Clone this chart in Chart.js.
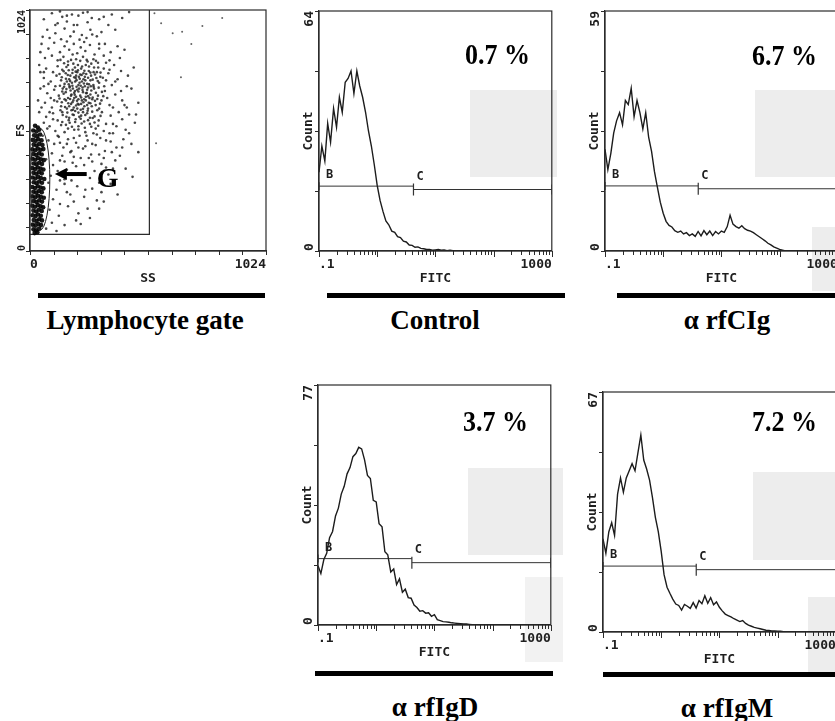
<!DOCTYPE html>
<html>
<head>
<meta charset="utf-8">
<script src="https://cdn.jsdelivr.net/npm/chart.js"></script>
<style>
html,body{margin:0;padding:0;background:#fff;}
#fig{position:relative;width:835px;height:721px;overflow:hidden;background:#fff;}
#fig canvas{position:absolute;z-index:2;}
.shade{position:absolute;background:#ededed;z-index:1;}
.bar{position:absolute;background:#000;height:5px;z-index:3;}
.title{position:absolute;font-family:"Liberation Serif","Times New Roman",serif;font-weight:bold;font-size:27px;line-height:27px;white-space:nowrap;z-index:3;color:#000;transform:translateX(-50%);}
.pct{position:absolute;font-family:"Liberation Serif","Times New Roman",serif;font-weight:bold;font-size:26px;line-height:26px;white-space:nowrap;z-index:3;color:#000;transform-origin:0 22px;transform:scaleY(1.12);}
</style>
</head>
<body>
<div id="fig">
  <div class="shade" style="left:470px;top:90px;width:87px;height:87px"></div>
  <div class="shade" style="left:755px;top:90px;width:80px;height:87px"></div>
  <div class="shade" style="left:812px;top:227px;width:23px;height:64px"></div>
  <div class="shade" style="left:468px;top:468px;width:95px;height:87px"></div>
  <div class="shade" style="left:525px;top:577px;width:38px;height:85px;background:#f2f2f2"></div>
  <div class="shade" style="left:753px;top:472px;width:82px;height:88px"></div>
  <div class="shade" style="left:808px;top:597px;width:27px;height:76px"></div>

  <canvas id="sc" width="270" height="286" style="left:0px;top:0px"></canvas>
  <canvas id="h0" width="259" height="286" style="left:300px;top:0px"></canvas>
  <canvas id="h1" width="259" height="286" style="left:586px;top:0px"></canvas>
  <canvas id="h2" width="259" height="286" style="left:299px;top:374px"></canvas>
  <canvas id="h3" width="259" height="286" style="left:584px;top:381px"></canvas>

  <div class="bar" style="left:38px;top:293px;width:227px"></div>
  <div class="bar" style="left:327px;top:293px;width:238px"></div>
  <div class="bar" style="left:617px;top:293px;width:230px"></div>
  <div class="bar" style="left:315px;top:671px;width:238px"></div>
  <div class="bar" style="left:603px;top:672px;width:240px"></div>

  <div class="title" id="t-gate" style="left:145px;top:307px"></div>
  <div class="title" id="t0" style="left:435px;top:307px"></div>
  <div class="title" id="t1" style="left:727px;top:307px"></div>
  <div class="title" id="t2" style="left:435px;top:694px"></div>
  <div class="title" id="t3" style="left:727px;top:695px"></div>

  <div class="pct" id="p0" style="left:465px;top:43px"></div>
  <div class="pct" id="p1" style="left:752px;top:44px"></div>
  <div class="pct" id="p2" style="left:463px;top:410px"></div>
  <div class="pct" id="p3" style="left:752px;top:410px"></div>
</div>
<script>
// ---------- DATA ----------
const fitcBins = [0.100,0.112,0.126,0.141,0.158,0.178,0.200,0.224,0.251,0.282,0.316,0.355,0.398,0.447,0.501,0.562,0.631,0.708,0.794,0.891,
1.00,1.12,1.26,1.41,1.58,1.78,2.00,2.24,2.51,2.82,3.16,3.55,3.98,4.47,5.01,5.62,6.31,7.08,7.94,8.91,
10.0,11.2,12.6,14.1,15.8,17.8,20.0,22.4,25.1,28.2,31.6,35.5,39.8,44.7,50.1,56.2,63.1,70.8,79.4,89.1,
100,112,126,141,158,178,200,224,251,282,316,355,398,447,501,562,631,708,794,891,1000];

const controlCounts = [21,28,24,34,29,38,33,41,37,45,
46,48,42,48,44,41,37,32,28,23,
17.5,13.5,10.5,8,7,5.3,5,3.8,3.6,2.6,
2.4,1.6,1.5,1.0,1.1,0.7,0.6,0.4,0.4,0.2,
0.3,0.4,0.2,0.3,0.1,0.2,0.1,0,0,0,
0,0,0,0,0,0,0,0,0,0,0,0,0,0,0,0,0,0,0,0,0,0,0,0,0,0,0,0,0,0,0];

const cigCounts = [25,20,24,29,32,34,31,37,36,40,
33,37,34,30,34,28,24.5,19.5,15.7,12,
9.3,7.3,6.3,5.9,5.0,4.6,4.9,4.2,4.5,3.8,
4.2,3.6,4.8,3.7,5.0,4.0,4.9,3.8,4.8,4.2,
4.9,4.6,6.0,8.8,6.6,6.0,5.6,6.2,5.5,5.1,
4.9,4.5,4.0,3.5,3.0,2.5,1.9,1.5,1.0,0.7,
0.4,0.2,0,0,0,0,0,0,0,0,
0,0,0,0,0,0,0,0,0,0,0];

const igdCounts = [19,16.5,21,23,28,30,35,37.5,42,44.5,
48.5,50.5,54,55,57,56.5,53,48,47,40,
39.5,32.5,31.5,23.5,22.5,17,18,13,14.8,10.5,
11.5,8.8,8.6,6.4,5.6,4.4,4.6,3.8,3.9,2.8,
3.3,1.7,1.4,1.1,1.0,0.9,0.7,0.6,0.5,0.4,
0.3,0.3,0.2,0.1,0,0,0,0,0,0,
0,0,0,0,0,0,0,0,0,0,0,0,0,0,0,0,0,0,0,0,0];

const igmCounts = [26,22,28,30.5,27,38.5,43,39,43,45,
47,45,50,55,48,45.5,42.4,37.5,32,28,
22.5,16,12.5,10.8,9.2,7.8,7.4,6.1,7.7,7.2,
6.6,8.2,6.7,8.8,7.9,10.1,8.0,9.6,7.6,8.4,
6.9,5.9,5.0,4.6,4.2,3.7,3.3,2.9,3.2,2.4,
1.9,1.6,1.3,1.1,0.9,0.7,0.5,0.4,0.3,0.3,
0.2,0.2,0.1,0,0,0,0,0,0,0,
0,0,0,0,0,0,0,0,0,0,0];

const panelNames = ['Control','\u03b1 rfCIg','\u03b1 rfIgD','\u03b1 rfIgM'];
const positivePct = ['0.7 %','6.7 %','3.7 %','7.2 %'];
const countMax = [64,59,77,67];
const gateCStart = [4.2,4.0,4.1,4.0];
const gateBLevel = [17.3,16.0,21.3,18.4];
const gateCLevel = [16.4,15.3,20.0,17.4];
const fitcTickLabels = ['.1','1000'];
const scatterTickLabels = ['0','1024'];
const scatterTitle = 'Lymphocyte gate';

// [SS, FS] pairs
const lymphPoints = [[22,532],[34,525],[14,512],[28,508],[40,515],[18,492],[30,488],[44,495],
[12,472],[24,468],[36,475],[50,470],[16,452],[28,448],[40,455],[54,450],
[10,432],[22,428],[34,435],[46,430],[58,433],[15,412],[27,408],[39,415],[51,410],
[11,392],[23,388],[35,395],[47,390],[60,386],[16,372],[28,368],[40,375],[52,370],
[10,352],[22,348],[34,355],[46,350],[58,346],[15,332],[27,328],[39,335],[51,330],
[11,312],[23,308],[35,315],[47,310],[62,306],[16,292],[28,288],[40,295],[52,290],
[10,272],[22,268],[34,275],[46,270],[58,266],[15,252],[27,248],[39,255],[51,250],
[11,232],[23,228],[35,235],[47,230],[60,226],[16,212],[28,208],[40,215],[52,210],
[10,192],[22,188],[34,195],[46,190],[57,186],[15,172],[27,168],[39,175],[51,170],
[11,152],[23,148],[35,155],[47,150],[16,132],[28,128],[40,135],[52,130],
[12,112],[24,108],[36,115],[48,110],[15,92],[27,88],[40,95],[20,76],[32,80]];

const cloudPoints = [
[95,1010],[140,995],[182,1005],[230,1012],[268,990],[120,968],[160,975],[205,960],[250,972],[300,985],
[75,940],[110,925],[150,945],[190,932],[225,918],[262,940],[310,930],[340,960],[85,905],[135,900],
[175,912],[215,898],[245,905],[290,912],[130,1018],[210,1000],[60,985],[355,1005],[400,990],[430,1015],
[50,880],[80,860],[105,885],[130,845],[150,870],[170,855],[190,880],[205,840],[220,865],[240,850],
[260,875],[280,835],[300,860],[325,880],[350,845],[380,870],[410,855],[65,820],[95,830],[120,810],
[145,825],[165,805],[185,835],[200,815],[230,825],[250,805],[275,815],[295,800],[320,830],[345,810],
[45,845],[390,820],[160,890],[235,888],
[40,790],[70,775],[100,760],[120,785],[140,770],[155,755],[165,790],[175,745],[185,770],[195,780],
[205,760],[212,740],[222,775],[232,755],[242,790],[255,765],[265,745],[278,780],[290,760],[305,740],
[320,775],[340,755],[365,790],[395,765],[425,745],[60,735],[90,720],[115,745],[135,725],[150,710],
[170,730],[182,715],[198,735],[210,705],[225,720],[238,740],[248,710],[262,725],[275,705],[288,735],
[300,715],[330,725],[355,705],[380,730],[450,780],
[45,690],[75,670],[105,685],[125,660],[142,690],[155,675],[165,650],[172,695],[180,665],[188,640],
[195,680],[200,655],[207,625],[213,690],[218,660],[225,640],[230,675],[236,615],[242,655],[248,685],
[255,630],[262,665],[270,645],[278,690],[285,620],[295,660],[310,640],[325,680],[345,620],[370,665],
[400,640],[440,690],[65,630],[95,610],[118,635],[135,615],[150,645],[160,605],[178,625],[190,610],
[205,605],[220,600],[235,645],[252,605],[268,615],[300,605],[335,650],[360,610],[470,630],
[160,720],[172,700],[186,690],[196,720],[205,685],[215,715],[228,695],[240,725],[252,695],[200,745],
[218,750],[232,730],[178,660],[192,650],[210,645],[222,625],[244,670],[258,650],[170,615],[186,600],
[230,590],[214,570],[196,595],[248,620],[264,700],
[40,590],[70,570],[100,585],[120,555],[140,590],[158,570],[172,545],[185,580],[198,560],[210,530],
[222,575],[235,550],[248,585],[260,540],[272,565],[285,520],[298,555],[312,590],[330,540],[350,575],
[375,530],[400,560],[430,580],[455,545],[85,530],[110,510],[135,535],[150,505],[165,520],[192,515],
[240,505],[275,500],[320,510],[360,500],[415,515],[60,545],
[55,490],[80,470],[105,455],[125,485],[145,440],[165,475],[180,425],[200,460],[215,490],[230,435],
[250,470],[265,410],[285,450],[305,480],[325,425],[350,465],[375,440],[405,475],[440,455],[470,420],
[95,415],[140,405],[190,400],[240,445],[300,410],[390,405],
[70,390],[100,365],[130,385],[160,345],[185,375],[210,330],[235,365],[255,395],[280,340],[310,370],
[340,325],[370,385],[415,350],[445,315],[90,320],[150,305],[200,360],[260,310],[120,340],
[80,290],[115,260],[150,285],[175,240],[205,275],[235,230],[270,265],[310,250],[350,285],[100,220],
[190,210],[290,215],[380,240],[130,300],
[85,175],[125,150],[165,190],[210,160],[260,140],[95,120],[150,110],[220,115],[300,180],[70,95],[115,85],
[132,812],[148,798],[158,782],[168,768],[178,812],[188,796],[198,762],[208,790],[218,808],[226,784],
[236,766],[246,812],[256,784],[266,796],[276,760],[286,808],[296,780],
[128,752],[138,738],[146,764],[156,732],[164,748],[174,722],[184,756],[192,738],[202,726],[208,768],
[216,732],[224,748],[234,712],[244,752],[252,736],[262,758],[272,728],[282,750],[294,722],[306,758],[316,736],
[130,702],[140,678],[148,698],[158,688],[168,708],[176,682],[184,702],[192,672],[202,698],[210,678],
[220,702],[228,684],[238,700],[246,672],[256,708],[266,682],[276,698],[286,672],[298,694],[312,676],[322,700],
[128,648],[138,632],[146,668],[156,640],[166,628],[174,646],[184,632],[194,664],[204,638],[212,622],
[222,652],[232,632],[242,640],[252,658],[262,628],[272,652],[282,638],[292,646],[304,626],[318,658],
[132,598],[142,578],[152,612],[162,588],[170,566],[180,598],[190,578],[200,618],[210,588],[220,562],
[230,604],[240,578],[250,596],[260,566],[270,592],[280,572],[292,598],[306,574],
[140,548],[156,536],[168,556],[182,528],[196,548],[210,516],[224,542],[238,524],[252,556],[266,528],[280,546],[296,532],
[60,760],[80,710],[90,650],[85,590],[110,700],[105,640],[100,560],[75,520],[120,490],[130,460],
[160,455],[190,480],[210,440],[245,490],[270,455],[290,495],[330,470],[345,500],[360,540],[385,590],
[410,620],[395,680],[420,700],[370,720],[345,770],[330,800],[300,880],[270,920],[190,960],[160,1000],
[250,1015],[320,995],[370,940],[110,960],[55,910],[45,760],[35,640],[50,610],[60,700],[150,380],
[175,420],[220,395],[270,380],[320,395],[355,420],[400,440],[430,500],[460,580],[420,610],[240,260],
[180,300],[300,290],[330,355],[360,350],[160,250],[130,200],[250,180],[320,210],[200,130]];

const outsidePoints = [[569,968],[619,925],[660,932],[748,956],[655,738],[547,458],[834,990],[540,1010],[700,880]];

const gateSSMax = 518, gateFSMin = 71;          // rectangular scatter gate
const gateG = {ss:44, fs:305, rss:42, rfs:216};   // elliptical lymphocyte gate "G"
const arrowSS = [246,108], arrowFS = 327;

// ---------- HELPERS ----------
const MONO = '"DejaVu Sans Mono", "Liberation Mono", monospace';
const INK = '#1e1e1e';
const logTicks = [];
for (let e = -1; e < 3; e++) for (let s = 1; s < 10; s++) logTicks.push(+(s * Math.pow(10, e)).toFixed(3));
logTicks.push(1000);

function rotLabel(ctx, x, y, text, align) {
  ctx.save(); ctx.translate(x, y); ctx.rotate(-Math.PI / 2);
  ctx.textAlign = align; ctx.textBaseline = 'middle';
  ctx.fillText(text, 0, 0); ctx.restore();
}
// short outward tick marks along bottom and left edges, placed by the chart's scales
function drawTickMarks(chart, bigX) {
  const {ctx, chartArea: a, scales: {x, y}} = chart;
  ctx.save();
  ctx.strokeStyle = '#2b2b2b'; ctx.lineWidth = 1;
  ctx.beginPath();
  x.ticks.forEach(t => {
    const px = Math.round(x.getPixelForValue(t.value)) + 0.5;
    const len = bigX && bigX(t.value) ? 6 : 4;
    ctx.moveTo(px, a.bottom); ctx.lineTo(px, a.bottom + len);
  });
  y.ticks.forEach(t => {
    const py = Math.round(y.getPixelForValue(t.value)) + 0.5;
    ctx.moveTo(a.left - 4, py); ctx.lineTo(a.left, py);
  });
  ctx.stroke();
  ctx.restore();
}

document.getElementById('t-gate').textContent = scatterTitle;
for (let i = 0; i < 4; i++) {
  document.getElementById('t' + i).textContent = panelNames[i];
  document.getElementById('p' + i).textContent = positivePct[i];
}

// ---------- HISTOGRAMS ----------
const allCounts = [controlCounts, cigCounts, igdCounts, igmCounts];
const isDecade = v => [0.1, 1, 10, 100, 1000].includes(v);
function makeHist(i) {
  const maxY = countMax[i];
  const counts = allCounts[i];
  const deco = {
    id: 'deco' + i,
    afterDatasetsDraw(chart) {
      const {ctx, chartArea: a, scales: {x, y}} = chart;
      drawTickMarks(chart, isDecade);
      ctx.save();
      ctx.strokeStyle = '#2b2b2b'; ctx.lineWidth = 1.2;
      ctx.strokeRect(a.left, a.top, a.right - a.left, a.bottom - a.top);
      ctx.fillStyle = INK;
      ctx.font = 'bold 13px ' + MONO;
      rotLabel(ctx, a.left - 9.5, y.getPixelForValue(maxY), String(maxY), 'right');
      rotLabel(ctx, a.left - 9.5, y.getPixelForValue(0), '0', 'left');
      ctx.font = 'bold 12px ' + MONO;
      ctx.textAlign = 'left'; ctx.textBaseline = 'bottom';
      ctx.fillText('B', x.getPixelForValue(fitcBins[0]) + 7, y.getPixelForValue(gateBLevel[i]) - 5);
      ctx.fillText('C', x.getPixelForValue(gateCStart[i]) + 3, y.getPixelForValue(gateCLevel[i]) - 7);
      ctx.restore();
    }
  };
  new Chart(document.getElementById('h' + i), {
    type: 'line',
    data: {
      datasets: [
        {data: fitcBins.map((v, k) => ({x: v, y: counts[k]})), borderColor: '#1c1c1c', borderWidth: 1.4, pointRadius: 0, tension: 0},
        {data: [{x: fitcBins[0], y: gateBLevel[i]}, {x: gateCStart[i], y: gateBLevel[i]}], borderColor: '#333', borderWidth: 1,
         pointStyle: 'line', rotation: 90, pointRadius: [4, 0], pointBorderColor: '#333', pointBorderWidth: 1.2},
        {data: [{x: gateCStart[i], y: gateCLevel[i]}, {x: fitcBins[fitcBins.length - 1], y: gateCLevel[i]}], borderColor: '#333', borderWidth: 1,
         pointStyle: 'line', rotation: 90, pointRadius: [6, 5], pointBorderColor: '#333', pointBorderWidth: 1.2}
      ]
    },
    options: {
      responsive: false, animation: false, devicePixelRatio: 1,
      layout: {padding: {top: 11, right: 3, left: 0, bottom: 0}},
      plugins: {legend: {display: false}, tooltip: {enabled: false}},
      scales: {
        x: {
          type: 'logarithmic', min: 0.1, max: 1000,
          afterBuildTicks: s => { s.ticks = logTicks.map(v => ({value: v})); },
          afterFit: s => { s.height = 35; },
          ticks: {autoSkip: false, maxRotation: 0, minRotation: 0, align: 'inner', padding: 2, color: INK,
                  font: {family: MONO, size: 13, weight: 'bold'},
                  callback: v => v === 0.1 ? fitcTickLabels[0] : (v === 1000 ? fitcTickLabels[1] : '')},
          grid: {display: false, drawOnChartArea: false, drawTicks: true, tickLength: 4, color: '#333'},
          border: {display: true, color: '#2b2b2b', width: 1.2},
          title: {display: true, text: 'FITC', color: INK, font: {family: MONO, size: 13, weight: 'bold'}, padding: {top: 0, bottom: 0}}
        },
        y: {
          type: 'linear', min: 0, max: maxY,
          afterBuildTicks: s => { s.ticks = [0, 0.25, 0.5, 0.75, 1].map(f => ({value: f * maxY})); },
          afterFit: s => { s.width = 19; },
          ticks: {display: false},
          grid: {display: false, drawOnChartArea: false, drawTicks: true, tickLength: 4, color: '#333'},
          border: {display: true, color: '#2b2b2b', width: 1.2},
          title: {display: true, text: 'Count', color: INK, font: {family: MONO, size: 13, weight: 'bold'}, padding: {top: 1, bottom: 0}}
        }
      }
    },
    plugins: [deco]
  });
}
for (let i = 0; i < 4; i++) makeHist(i);

// ---------- SCATTER (FS vs SS) ----------
const toXY = arr => arr.map(p => ({x: p[0], y: p[1]}));
const scDeco = {
  id: 'scdeco',
  afterDatasetsDraw(chart) {
    const {ctx, chartArea: a, scales: {x, y}} = chart;
    drawTickMarks(chart, null);
    ctx.save();
    ctx.strokeStyle = '#2b2b2b'; ctx.lineWidth = 1.2;
    ctx.strokeRect(a.left, a.top, a.right - a.left, a.bottom - a.top);
    // elliptical gate G
    const cx = x.getPixelForValue(gateG.ss), cy = y.getPixelForValue(gateG.fs);
    const rx = x.getPixelForValue(gateG.ss + gateG.rss) - cx;
    const ry = cy - y.getPixelForValue(gateG.fs + gateG.rfs);
    ctx.lineWidth = 1; ctx.strokeStyle = '#222';
    ctx.beginPath(); ctx.ellipse(cx, cy, rx, ry, 0, 0, Math.PI * 2); ctx.stroke();
    // arrow
    const x0 = x.getPixelForValue(arrowSS[0]), x1 = x.getPixelForValue(arrowSS[1]), ay = y.getPixelForValue(arrowFS);
    ctx.fillStyle = '#000';
    ctx.fillRect(x1 + 10, ay - 2, x0 - x1 - 10, 4);
    ctx.beginPath(); ctx.moveTo(x1, ay); ctx.lineTo(x1 + 12, ay - 6); ctx.lineTo(x1 + 12, ay + 6); ctx.closePath(); ctx.fill();
    ctx.font = 'bold 28px "Liberation Serif", serif';
    ctx.textAlign = 'left'; ctx.textBaseline = 'alphabetic';
    ctx.fillText('G', x0 + 10, ay + 13);
    // rotated y labels
    ctx.fillStyle = INK;
    ctx.font = 'bold 10px ' + MONO;
    rotLabel(ctx, a.left - 8, y.getPixelForValue(1024), scatterTickLabels[1], 'right');
    rotLabel(ctx, a.left - 8, y.getPixelForValue(0), scatterTickLabels[0], 'left');
    ctx.restore();
  }
};
const tenthTicks = s => { const t = []; for (let k = 0; k <= 10; k++) t.push({value: (k * 1024) / 10}); s.ticks = t; };
new Chart(document.getElementById('sc'), {
  type: 'scatter',
  data: {
    datasets: [
      {data: toXY(outsidePoints), pointRadius: 1.0, pointBackgroundColor: 'rgba(60,60,60,0.8)', pointBorderWidth: 0},
      {data: toXY(cloudPoints), pointRadius: 1.3, pointBackgroundColor: 'rgba(30,30,30,0.82)', pointBorderWidth: 0},
      {data: toXY(lymphPoints), pointRadius: 2.3, pointBackgroundColor: 'rgba(5,5,5,0.92)', pointBorderWidth: 0},
      {data: [{x: 0, y: gateFSMin}, {x: gateSSMax, y: gateFSMin}, {x: gateSSMax, y: 1024}], showLine: true, pointRadius: 0,
       borderColor: '#2b2b2b', borderWidth: 1.2}
    ]
  },
  options: {
    responsive: false, animation: false, devicePixelRatio: 1,
    layout: {padding: {top: 10, right: 3, left: 0, bottom: 0}},
    plugins: {legend: {display: false}, tooltip: {enabled: false}},
    scales: {
      x: {
        type: 'linear', min: 0, max: 1024,
        afterBuildTicks: tenthTicks,
        afterFit: s => { s.height = 35; },
        ticks: {autoSkip: false, maxRotation: 0, minRotation: 0, align: 'inner', padding: 2, color: INK,
                font: {family: MONO, size: 13, weight: 'bold'},
                callback: v => v === 0 ? scatterTickLabels[0] : (v === 1024 ? scatterTickLabels[1] : '')},
        grid: {display: false, drawOnChartArea: false, drawTicks: true, tickLength: 4, color: '#333'},
        border: {display: true, color: '#2b2b2b', width: 1.2},
        title: {display: true, text: 'SS', color: INK, font: {family: MONO, size: 13, weight: 'bold'}, padding: {top: 0, bottom: 0}}
      },
      y: {
        type: 'linear', min: 0, max: 1024,
        afterBuildTicks: tenthTicks,
        afterFit: s => { s.width = 30; },
        ticks: {display: false},
        grid: {display: false, drawOnChartArea: false, drawTicks: true, tickLength: 4, color: '#333'},
        border: {display: true, color: '#2b2b2b', width: 1.2},
        title: {display: true, text: 'FS', color: INK, font: {family: MONO, size: 11, weight: 'bold'}, padding: {top: 15, bottom: 0}}
      }
    }
  },
  plugins: [scDeco]
});
</script>
</body>
</html>
